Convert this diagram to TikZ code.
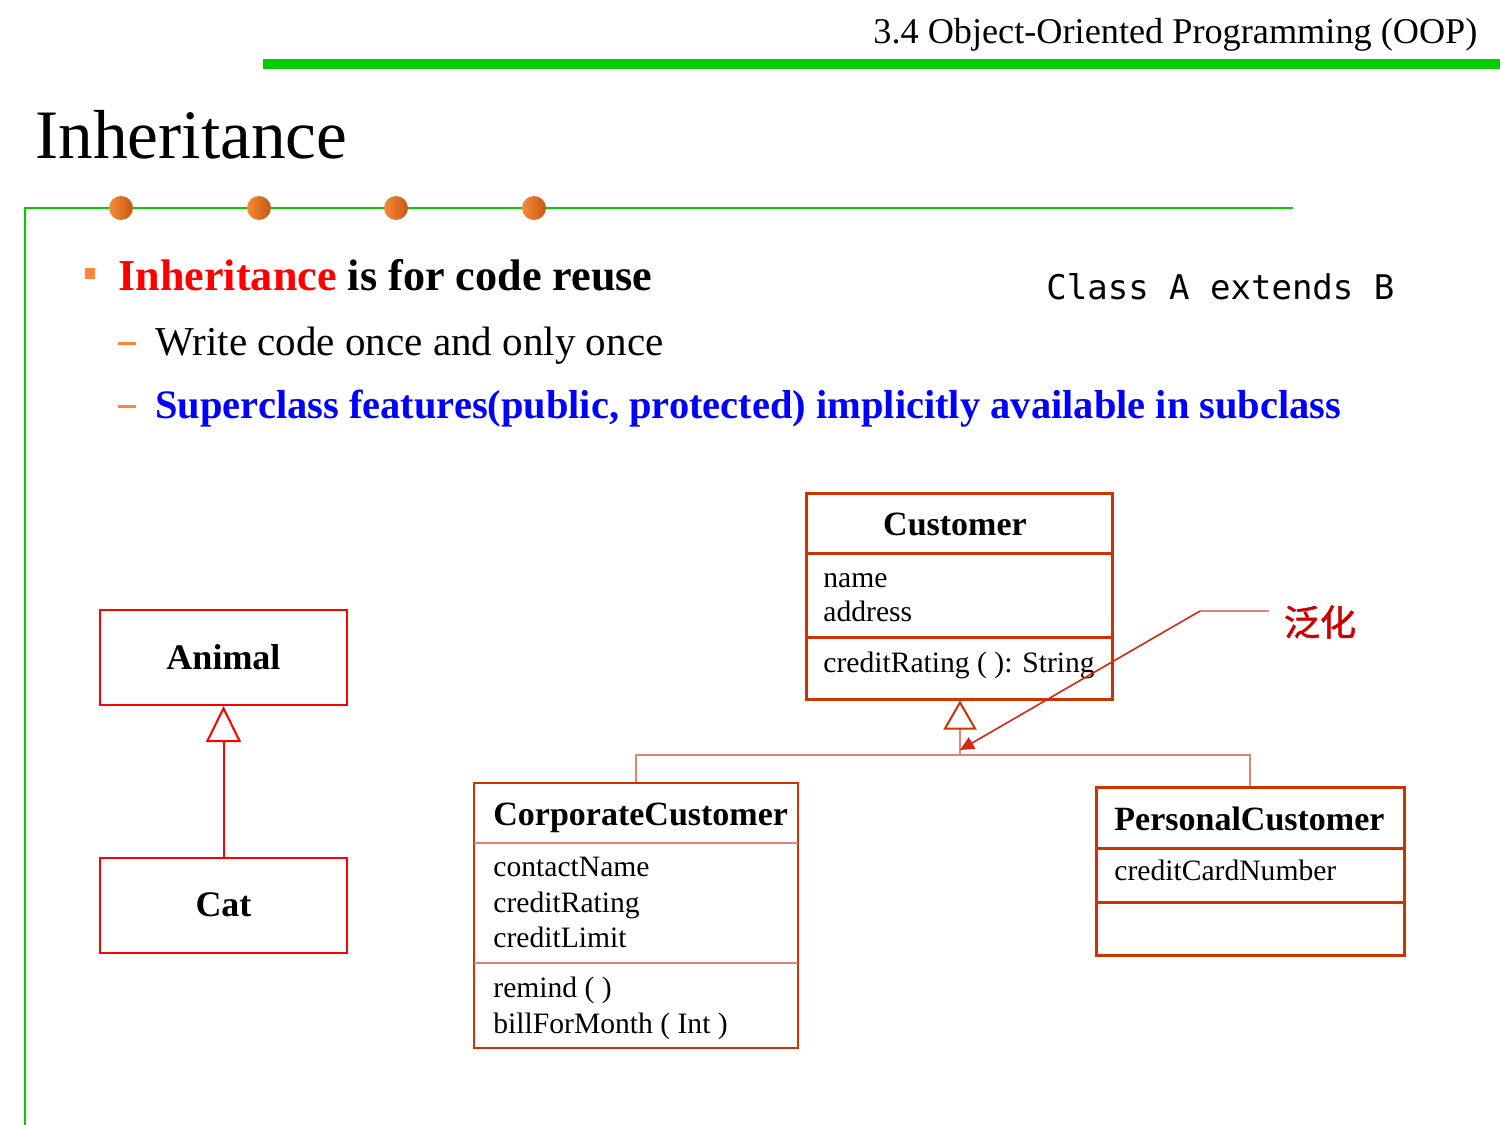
\documentclass[tikz,border=0pt]{standalone}
\usepackage{fontspec}
\usepackage{graphicx}
\setmainfont{Liberation Serif}
\newfontfamily\codefont{DejaVu Sans Mono}
\newfontfamily\cjk[FakeBold=1.5]{Noto Sans CJK SC}
\usetikzlibrary{arrows.meta,calc}

\definecolor{slidegreen}{RGB}{0,204,0}
\definecolor{dotlight}{RGB}{246,140,52}
\definecolor{dotdark}{RGB}{196,88,24}
\definecolor{bulletorange}{RGB}{255,132,60}
\definecolor{umlred}{RGB}{204,51,0}
\definecolor{treered}{RGB}{226,130,120}
\definecolor{notered}{RGB}{210,40,20}
\definecolor{cjkred}{RGB}{204,0,0}

% scale a line of text to a given width (in pt)
\newcommand\fitw[2]{\resizebox{#1pt}{!}{#2}}

\tikzset{
  txt/.style={anchor=base west, inner sep=0pt},
  umlbox/.style={draw=umlred, line width=1.5pt, inner sep=0pt},
  animbox/.style={draw=red, line width=1pt, inner sep=0pt,
    minimum width=123.5pt, minimum height=47.5pt,
    font=\fontsize{18}{20}\selectfont\bfseries},
  umltitle/.style={anchor=base west, inner sep=0pt, font=\fontsize{17}{19}\selectfont\bfseries},
  umlattr/.style={anchor=base west, inner sep=0pt, font=\fontsize{14.8}{16}\selectfont},
  divider/.style={draw=umlred, line width=1.5pt},
  softdivider/.style={draw=treered, line width=1pt},
  tree/.style={draw=treered, line width=1pt},
  dot/.style={circle, minimum size=12pt, inner sep=0pt,
    left color=dotlight, right color=dotdark, draw=none},
}

\begin{document}
\begin{tikzpicture}[x=0.5pt,y=-0.5pt]
\useasboundingbox (0,0) rectangle (1500,1125);

% header
\node[txt] (header) at (873,43) {\fitw{302}{3.4 Object-Oriented Programming (OOP)}};
\fill[slidegreen] (263,59) rectangle (1500,69);

% title and frame
\node[txt] (title) at (35,158) {\fitw{156}{Inheritance}};
\draw[slidegreen, line width=1pt] (1293,208) -- (25,208) -- (25,1125);
\foreach \x/\n in {121/1,259/2,396/3,534/4}
  \node[dot] (dot\n) at (\x,208) {};

% bullets
\fill[bulletorange] (85,268) rectangle (95,279);
\node[txt] (b1) at (118,290) {\fitw{267}{\bfseries\textcolor{red}{Inheritance} is for code reuse}};
\fill[bulletorange] (118,342) rectangle (136,345);
\node[txt] (b2) at (155,355) {\fitw{254}{Write code once and only once}};
\fill[bulletorange] (118,405) rectangle (136,408);
\node[txt] (b3) at (155,418) {\fitw{593}{\bfseries\color{blue}Superclass features(public, protected) implicitly available in subclass}};
\node[txt] (code) at (1046,299) {\codefont\fontsize{17}{19}\selectfont Class A extends B};

% Animal / Cat
\node[animbox] (animal) at (223.5,657.5) {Animal};
\node[animbox] (cat) at (223.5,905) {Cat};
\draw[red, line width=1pt, -{Triangle[open, length=18pt, width=17.5pt, fill=white]}] (cat.north) -- (animal.south);

% Customer
\node[umlbox, minimum width=153pt, minimum height=103pt] (cust) at (959,596) {};
\draw[divider] (806,553) -- (1112,553);
\draw[divider] (806,637) -- (1112,637);
\node[umltitle, anchor=base] (custname) at (955,535) {Customer};
\node[umlattr] (c1) at (823,587) {name};
\node[umlattr] (c2) at (823,621) {address};
\node[umlattr] (c3) at (823,672) {creditRating ( ): String};

% CorporateCustomer
\node[umlbox, line width=1.25pt, minimum width=162pt, minimum height=132.5pt] (corp) at (636,915.5) {};
\draw[softdivider] (474,843) -- (798,843);
\draw[softdivider] (474,963) -- (798,963);
\node[umltitle] (corpname) at (493,825) {CorporateCustomer};
\node[umlattr] (k1) at (493,876) {contactName};
\node[umlattr] (k2) at (493,912) {creditRating};
\node[umlattr] (k3) at (493,947) {creditLimit};
\node[umlattr] (k4) at (493,997) {remind ( )};
\node[umlattr] (k5) at (493,1033) {billForMonth ( Int )};

% PersonalCustomer
\node[umlbox, minimum width=154pt, minimum height=84pt] (pers) at (1250,871) {};
\draw[divider] (1096,848) -- (1404,848);
\draw[divider] (1096,902) -- (1404,902);
\node[umltitle] (persname) at (1114,830) {PersonalCustomer};
\node[umlattr] (p1) at (1114,880) {creditCardNumber};

% generalization tree
\coordinate (join) at (960,755);
\draw[tree] (corp.north) |- (pers.north |- join) -- (pers.north);
\draw[tree, -{Triangle[open, length=14.5pt, width=16.5pt, color=umlred, fill=white, line width=1pt]}] (join) -- (cust.south -| join);

% annotation
\node[inner sep=0pt, text=cjkred, font=\cjk\fontsize{18}{20}\selectfont] (gen) at (1320,622) {泛化};
\coordinate (bend) at (1200,611);
\coordinate (tip) at (960,750);
\draw[treered, line width=1pt] ($(gen.west)+(-15,-11)$) -- (bend);
\draw[notered, line width=0.8pt, -{Triangle[length=7pt, width=6.5pt]}] (bend) -- (tip);

\end{tikzpicture}
\end{document}
